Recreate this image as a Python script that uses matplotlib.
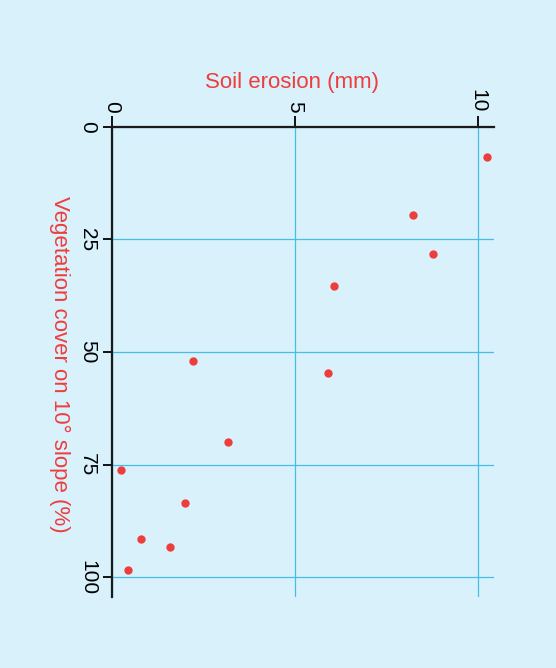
import matplotlib.pyplot as plt

# vegetation cover (%) against soil erosion (mm)
vegetation_cover = [6.8, 19.6, 28.3, 35.3, 52.0, 54.7, 70.0, 76.1, 83.6, 91.6, 93.3, 98.3]
soil_erosion = [10.27, 8.24, 8.77, 6.08, 2.21, 5.90, 3.17, 0.25, 2.01, 0.81, 1.58, 0.45]

erosion_ticks = [0, 5, 10]
cover_ticks = [0, 25, 50, 75, 100]

bg = '#d8f1fb'
red = '#ee3d3d'
cyan = '#45bde6'

plt.rcParams['font.family'] = ['Liberation Sans', 'DejaVu Sans']

fig = plt.figure(figsize=(5.56, 6.68), dpi=100, facecolor=bg)
ax = fig.add_axes([0.201, 0.1063, 0.6876, 0.704])
ax.set_facecolor(bg)

# chart is printed sideways: erosion runs along the top, cover runs downwards
ax.scatter(soil_erosion, vegetation_cover, s=36, color=red, zorder=3, linewidths=0)

ax.set_xlim(0, 10.45)
ax.set_ylim(104.4, 0)

ax.xaxis.tick_top()
ax.set_xticks(erosion_ticks)
ax.set_yticks(cover_ticks)
ax.set_xticklabels([str(t) for t in erosion_ticks], rotation=-90, fontsize=15)
ax.set_yticklabels([str(t) for t in cover_ticks], rotation=-90, fontsize=15, va='center')
ax.tick_params(axis='x', direction='out', length=8, width=1.3, pad=2)
ax.tick_params(axis='y', direction='out', length=6.5, width=1.3, pad=4)

for side in ['right', 'bottom']:
    ax.spines[side].set_visible(False)
for side in ['top', 'left']:
    ax.spines[side].set_linewidth(1.6)
    ax.spines[side].set_color('#1a1a1a')

ax.grid(True, color=cyan, linewidth=0.9)
ax.set_axisbelow(True)

fig.text(0.525, 0.876, 'Soil erosion (mm)', color=red, fontsize=16, ha='center', va='center')
fig.text(0.108, 0.455, 'Vegetation cover on 10° slope (%)', color=red, fontsize=16,
         rotation=-90, ha='center', va='center')

fig.savefig('out.png', dpi=100, facecolor=bg)
